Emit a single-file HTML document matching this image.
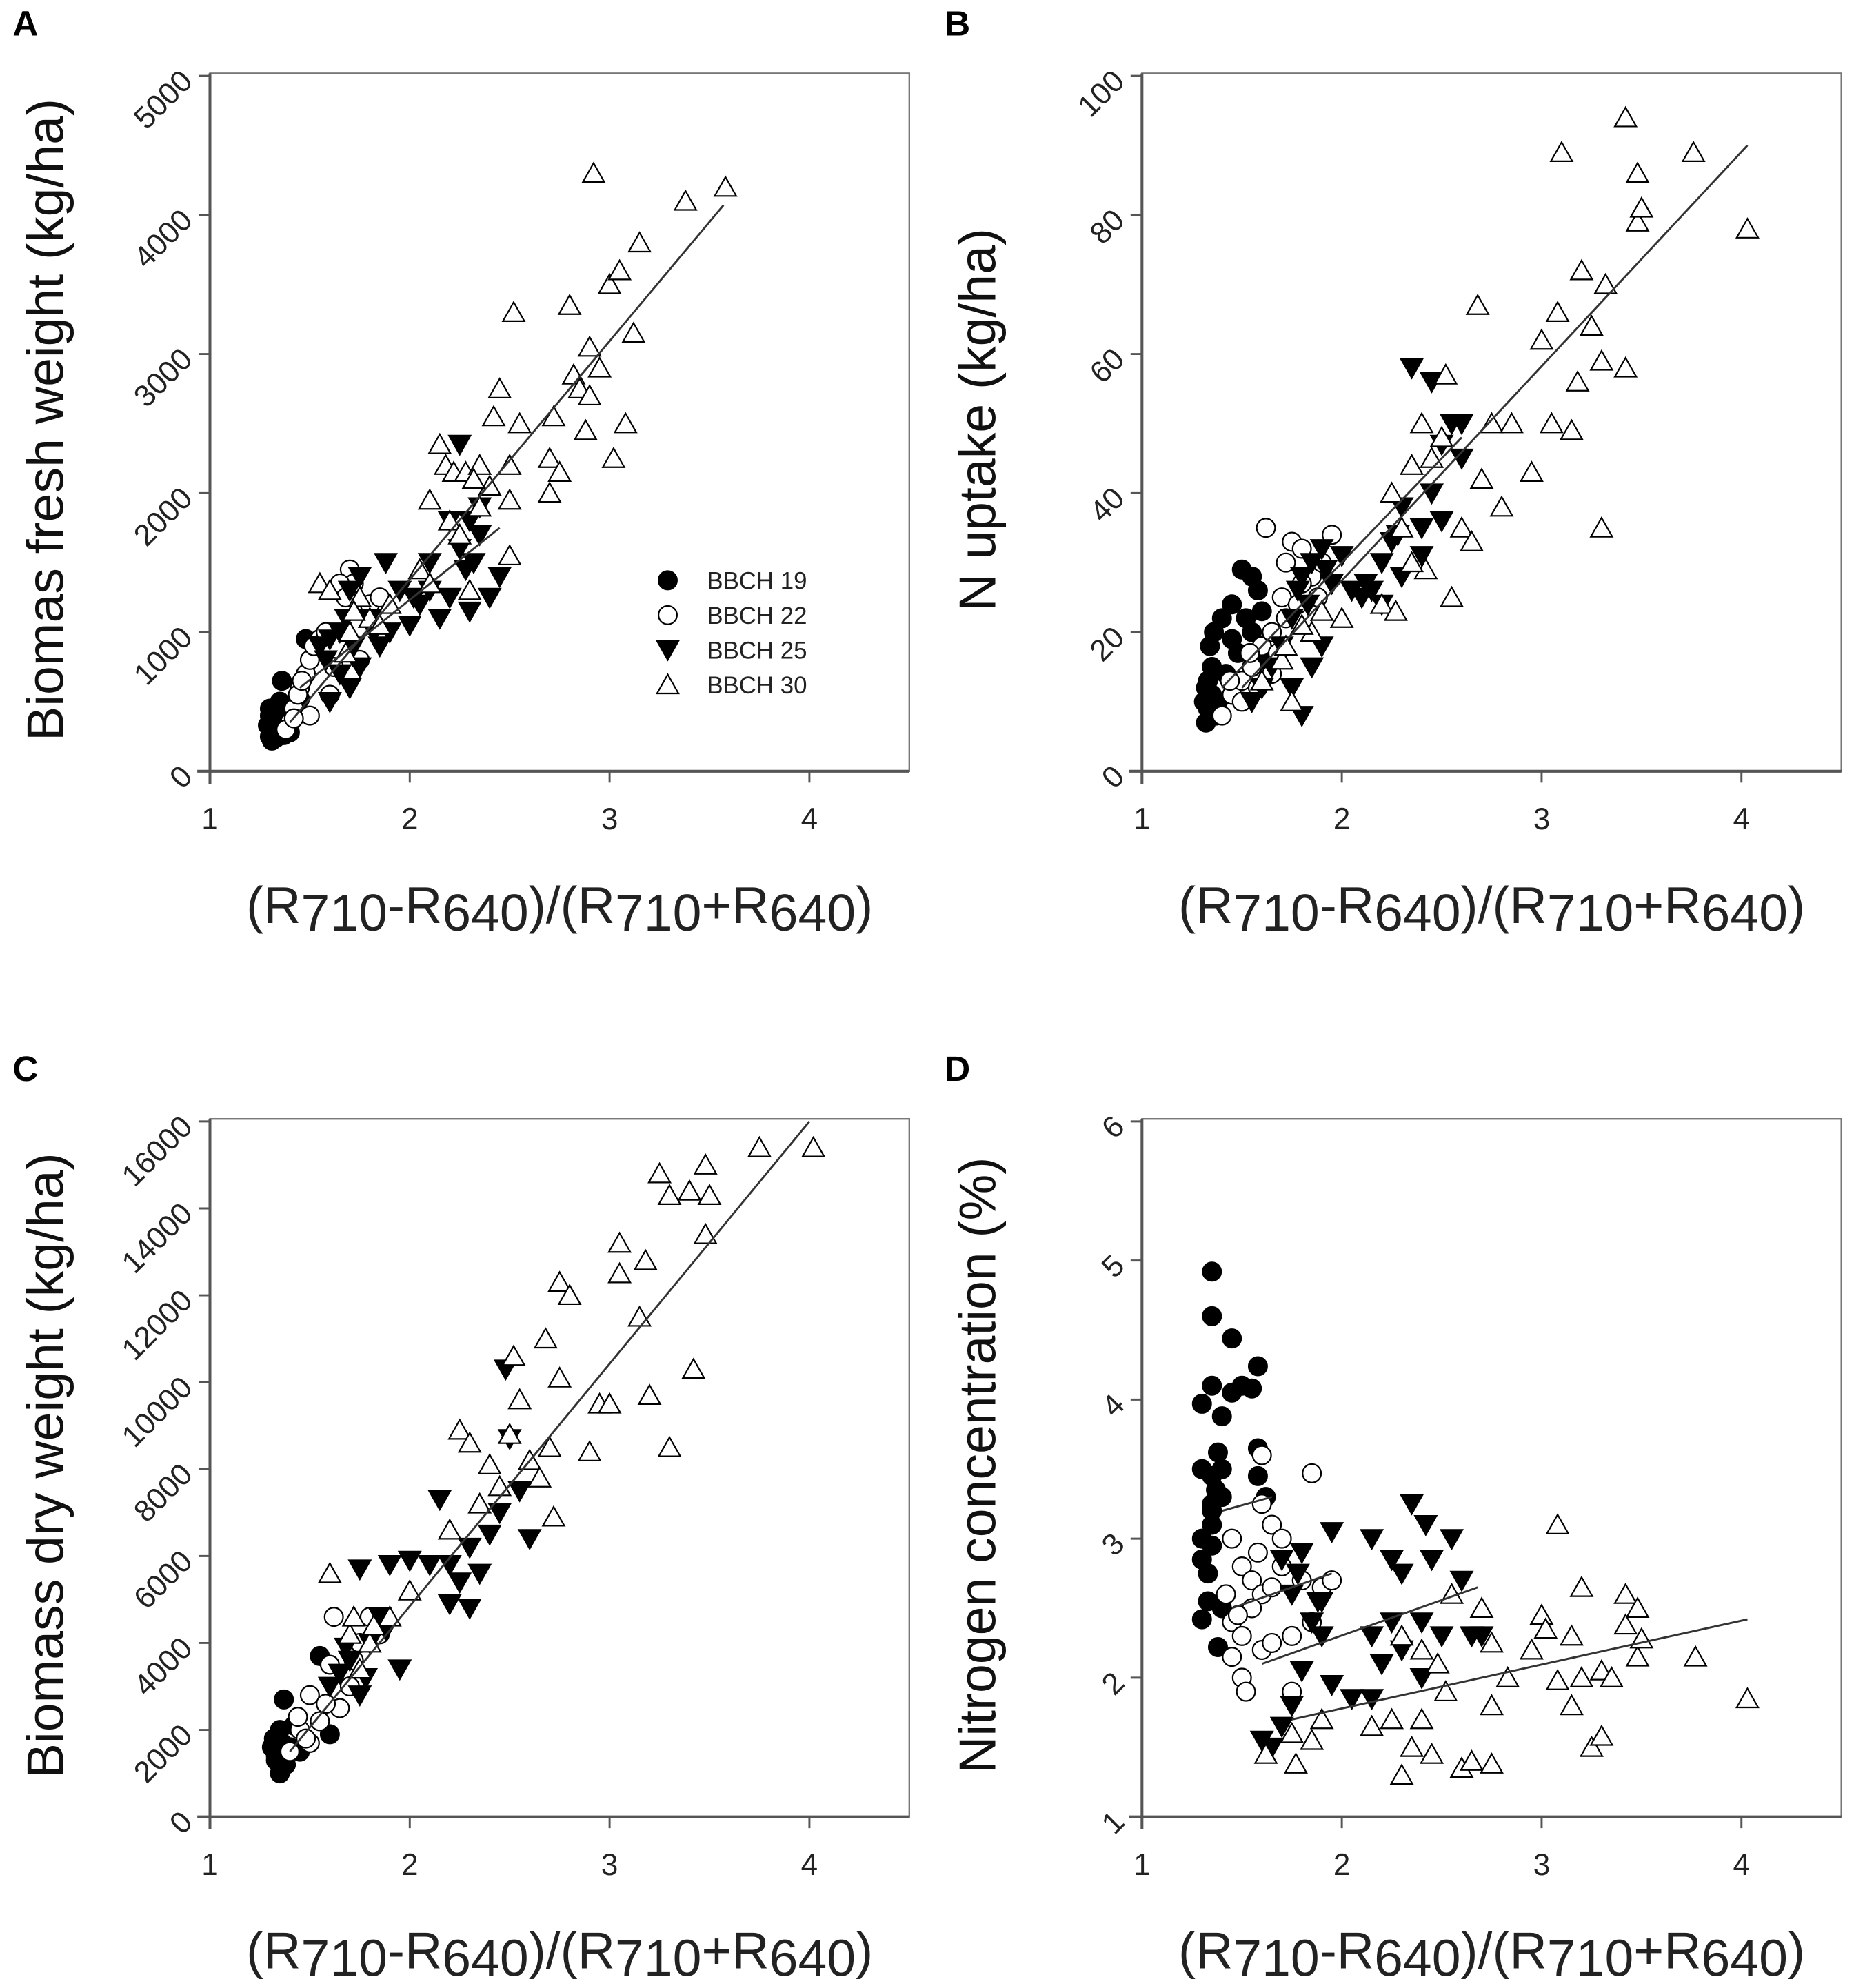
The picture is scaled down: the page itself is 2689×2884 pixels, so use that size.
<!DOCTYPE html>
<html><head><meta charset="utf-8"><title>Spectral index regressions</title>
<style>
html,body{margin:0;padding:0;background:#fff;}
svg{display:block;font-family:"Liberation Sans",Arial,sans-serif;}
</style></head>
<body>
<svg id="fig" width="2689" height="2884" viewBox="0 0 1466 1572.4" preserveAspectRatio="none" xmlns="http://www.w3.org/2000/svg"></svg>
<script>
// ---------- Panel A: Biomass fresh weight ----------
const aX19=[1.30,1.31,1.32,1.30,1.33,1.35,1.36,1.32,1.34,1.38,1.40,1.36,1.48,1.45,1.31,1.33,1.29,1.30,1.33,1.35,1.37];
const aY19=[250,300,350,400,450,500,650,280,320,300,280,380,950,520,220,240,330,450,420,270,260];
const aX22=[1.40,1.42,1.45,1.48,1.50,1.55,1.60,1.70,1.72,1.65,1.80,1.85,1.50,1.44,1.58,1.62,1.75,1.38,1.46,1.52,1.68,1.42];
const aY22=[350,450,600,700,800,950,550,1450,1350,1350,1200,1250,400,550,1000,750,800,300,650,900,1250,380];
const aX25=[1.55,1.60,1.65,1.70,1.75,1.80,1.85,1.88,1.70,1.65,1.95,2.00,2.05,2.10,2.15,2.20,2.25,2.25,2.30,2.30,2.35,2.40,2.45,2.35,2.20,1.60,1.75,1.90,2.28,2.10,1.58,1.68,1.72,1.82,2.02,2.32];
const aY25=[900,950,1000,1300,1400,1100,900,1500,600,700,1300,1050,1200,1500,1100,1250,2350,1600,1800,1150,1700,1250,1400,1900,1800,500,750,1000,1450,1300,800,1100,900,1000,1250,1500];
const aX30=[1.55,1.60,1.70,1.75,1.80,1.90,2.05,2.10,2.15,2.18,2.20,2.22,2.28,2.35,2.40,2.42,2.45,2.50,2.50,2.50,2.55,2.70,2.70,2.72,2.75,2.80,2.82,2.85,2.88,2.90,2.90,2.92,2.95,3.00,3.02,3.05,3.08,3.12,3.15,3.38,3.58,2.52,2.30,2.10,2.35,1.68,1.72,1.85,2.25,2.32];
const aY30=[1350,1300,1000,1250,1100,1200,1450,1950,2350,2200,1800,2150,2150,2200,2050,2550,2750,2200,1950,1550,2500,2000,2250,2550,2150,3350,2850,2750,2450,3050,2700,4300,2900,3500,2250,3600,2500,3150,3800,4100,4200,3300,1300,1350,1900,850,1150,1050,1700,2100];
const aLines=[[1.40,350,3.57,4070],[1.45,600,2.45,1750]];
// ---------- Panel B: N uptake ----------
const bX19=[1.32,1.33,1.32,1.35,1.34,1.36,1.40,1.45,1.50,1.55,1.58,1.38,1.42,1.48,1.55,1.60,1.35,1.45,1.52,1.60,1.33,1.37,1.31];
const bY19=[7,9,12,15,18,20,22,24,29,28,26,10,14,17,20,23,11,19,22,16,13,8,10];
const bX22=[1.40,1.45,1.50,1.55,1.60,1.62,1.65,1.70,1.72,1.75,1.80,1.85,1.90,1.95,1.50,1.58,1.65,1.72,1.80,1.68,1.78,1.88,1.44,1.54];
const bY22=[8,11,13,15,18,35,20,25,30,33,32,28,30,34,10,12,14,22,27,17,24,25,13,17];
const bX25=[1.55,1.60,1.65,1.70,1.75,1.80,1.85,1.90,1.80,1.90,1.95,2.00,2.10,2.15,2.20,2.25,2.30,2.35,2.40,2.45,2.50,2.50,2.55,2.60,2.60,2.30,2.40,2.20,2.05,1.75,1.85,2.45,1.78,1.83,1.92,2.12,2.28];
const bY25=[10,12,15,18,22,28,30,32,8,18,27,31,25,26,30,33,28,58,35,56,47,36,50,50,45,38,31,24,26,12,15,40,26,24,29,27,34];
const bX30=[1.60,1.70,1.75,1.85,1.90,2.00,2.20,2.25,2.30,2.35,2.40,2.42,2.50,2.52,2.55,2.60,2.65,2.68,2.70,2.75,2.80,2.85,2.95,3.00,3.05,3.08,3.10,3.15,3.18,3.20,3.25,3.30,3.30,3.32,3.42,3.42,3.48,3.48,3.50,3.76,4.03,2.45,2.35,1.72,1.80,2.27];
const bY30=[13,16,10,20,23,22,24,40,35,44,50,29,48,57,25,35,33,67,42,50,38,50,43,62,50,66,89,49,56,72,64,35,59,70,94,58,79,86,81,89,78,45,30,18,21,23];
const bLines=[[1.50,12,4.03,90],[1.40,12,2.60,48]];
// ---------- Panel C: Biomass dry weight ----------
const cX19=[1.35,1.33,1.32,1.35,1.37,1.40,1.42,1.38,1.55,1.60,1.45,1.33,1.31,1.36];
const cY19=[1000,1400,1800,2000,2700,1600,2100,1200,3700,1900,1500,1300,1600,1700];
const cX22=[1.40,1.45,1.50,1.55,1.60,1.62,1.65,1.70,1.75,1.80,1.85,1.50,1.58,1.72,1.44,1.48];
const cY22=[1500,2000,2800,2200,3500,4600,2500,3000,4000,4600,4200,1700,2600,3600,2300,1800];
const cX25=[1.60,1.65,1.70,1.75,1.80,1.85,1.90,1.95,2.00,2.10,2.15,2.20,2.25,2.30,2.35,2.40,2.45,2.48,2.50,2.55,2.60,2.30,2.20,1.75,1.88,1.68,1.78];
const cY25=[3000,3300,3600,2800,4000,4600,5800,3400,5900,5800,7300,4900,5400,4800,5600,6500,7000,10300,8700,7500,6400,6200,5800,5700,4300,3900,3200];
const cX30=[1.60,1.70,1.75,1.80,1.90,2.00,2.20,2.25,2.30,2.35,2.40,2.45,2.50,2.52,2.55,2.60,2.65,2.68,2.70,2.72,2.75,2.80,2.90,2.95,3.00,3.05,3.05,3.15,3.18,3.20,3.25,3.30,3.30,3.40,3.42,3.48,3.50,3.75,4.02,3.48,2.75,1.72,1.82];
const cY30=[5600,4200,3400,4000,4600,5200,6600,8900,8600,7200,8100,7600,8800,10600,9600,8200,7800,11000,8500,6900,12300,12000,8400,9500,9500,13200,12500,11500,12800,9700,14800,8500,14300,14400,10300,15000,14300,15400,15400,13400,10100,4600,4400];
const cLines=[[1.40,1500,4.00,16000]];
// ---------- Panel D: Nitrogen concentration ----------
const dX19=[1.35,1.35,1.45,1.58,1.30,1.35,1.45,1.50,1.55,1.40,1.38,1.30,1.35,1.40,1.58,1.58,1.35,1.40,1.62,1.30,1.35,1.30,1.35,1.33,1.30,1.38,1.40,1.35,1.33,1.37];
const dY19=[4.92,4.60,4.44,4.24,3.97,4.10,4.05,4.10,4.08,3.88,3.62,3.50,3.45,3.50,3.65,3.45,3.25,3.30,3.30,3.00,3.10,2.85,2.95,2.55,2.42,2.22,2.50,3.20,2.75,3.35];
const dX22=[1.60,1.85,1.60,1.65,1.70,1.45,1.50,1.55,1.60,1.65,1.70,1.80,1.90,1.45,1.50,1.55,1.60,1.65,1.50,1.52,1.75,1.45,1.75,1.85,1.95,1.42,1.48,1.58];
const dY22=[3.60,3.47,3.25,3.10,3.00,3.00,2.80,2.70,2.60,2.65,2.80,2.70,2.65,2.40,2.30,2.50,2.20,2.25,2.00,1.90,1.90,2.15,2.30,2.40,2.70,2.60,2.45,2.90];
const dX25=[1.60,1.65,1.70,1.75,1.80,1.70,1.80,1.85,1.90,1.95,1.95,2.05,2.15,2.15,2.15,2.20,2.25,2.25,2.30,2.35,2.40,2.40,2.42,2.45,2.50,2.55,2.60,2.65,2.70,1.75,1.90,2.30,1.78,1.88];
const dY25=[1.55,1.50,1.65,1.80,2.05,2.85,2.90,2.40,2.55,3.05,1.95,1.85,1.85,3.00,2.30,2.10,2.40,2.85,2.75,3.25,2.40,2.00,3.10,2.85,2.30,3.00,2.70,2.30,2.30,2.60,2.30,2.20,2.75,2.55];
const dX30=[1.62,1.75,1.77,1.85,1.90,2.15,2.25,2.30,2.35,2.40,2.40,2.45,2.48,2.52,2.55,2.60,2.65,2.70,2.75,2.75,2.83,2.95,3.00,3.02,3.08,3.08,3.15,3.15,3.20,3.20,3.25,3.30,3.30,3.35,3.42,3.42,3.48,3.48,3.50,3.77,4.03,2.30,2.75];
const dY30=[1.45,1.60,1.38,1.55,1.70,1.65,1.70,2.30,1.50,1.70,2.20,1.45,2.10,1.90,2.60,1.35,1.40,2.50,1.80,2.25,2.00,2.20,2.45,2.35,3.10,1.98,2.30,1.80,2.65,2.00,1.50,2.05,1.58,2.00,2.60,2.38,2.50,2.15,2.28,2.15,1.85,1.30,1.38];
const dLines=[[1.75,1.70,4.03,2.42],[1.60,2.10,2.68,2.65],[1.45,2.50,1.95,2.75],[1.40,3.20,1.65,3.30]];
const aYTicks=["0","1000","2000","3000","4000","5000"];
const bYTicks=["0","20","40","60","80","100"];
const cYTicks=["0","2000","4000","6000","8000","10000","12000","14000","16000"];
const dYTicks=["1","2","3","4","5","6"];
const xTicks=["1","2","3","4"];
const legendLabels=["BBCH 19","BBCH 22","BBCH 25","BBCH 30"];

const NS="http://www.w3.org/2000/svg";
const svg=document.getElementById('fig');
function mk(tag,attrs,parent){const e=document.createElementNS(NS,tag);for(const k in attrs)e.setAttribute(k,attrs[k]);(parent||svg).appendChild(e);return e;}

function marker(g,type,cx,cy){
  let e;
  if(type===0){e=mk('circle',{cx:cx,cy:cy,r:7.3,fill:'#000',stroke:'#000','stroke-width':1.2},g);}
  else if(type===1){e=mk('circle',{cx:cx,cy:cy,r:7.3,fill:'#fff',stroke:'#000','stroke-width':1.2},g);}
  else if(type===2){e=mk('polygon',{points:(cx-8.5)+','+(cy-7)+' '+(cx+8.5)+','+(cy-7)+' '+cx+','+(cy+8)},g);e.setAttribute('fill','#000');e.setAttribute('stroke','#000');e.setAttribute('stroke-width','1.2');}
  else {e=mk('polygon',{points:(cx-8.5)+','+(cy+7)+' '+(cx+8.5)+','+(cy+7)+' '+cx+','+(cy-8)},g);e.setAttribute('fill','#fff');e.setAttribute('stroke','#000');e.setAttribute('stroke-width','1.2');}
  return e;
}

function xTitle(g,cx,y){
  const t=mk('text',{x:cx,y:y,'text-anchor':'middle','font-size':41,fill:'#222'},g);
  
  
  const parts=[["(R",0],["710",6],["-R",-6],["640",6],[")/(R",-6],["710",6],["+R",-6],["640",6],[")",-6]];
  parts.forEach(p=>{const s=mk('tspan',{dy:p[1]},t);s.textContent=p[0];});
}

function panel(opt){
  const g=mk('g',{});
  
  
  const L=opt.left,R=opt.left+553,T=opt.top,B=opt.top+552;
  const xs=v=>L+(v-1)*158;
  const ys=v=>B-(v-opt.ymin)/(opt.ymax-opt.ymin)*(B-T-2);
  const lt=mk('text',{x:opt.left-156,y:opt.top-30,'font-size':28,'font-weight':'bold',fill:'#000'},g);
  
  
  lt.textContent=opt.letter;
  const fr=mk('rect',{x:L,y:T,width:R-L,height:B-T,fill:'none',stroke:'#777','stroke-width':1.3},g);
  
  
  const ax=mk('line',{x1:L-10,y1:B,x2:R,y2:B,stroke:'#555','stroke-width':2.2},g);
  
  
  const ay=mk('line',{x1:L,y1:T,x2:L,y2:B+10,stroke:'#555','stroke-width':2.2},g);
  
  
  xTicks.forEach(s=>{const v=parseFloat(s);const x=xs(v);
    const tk=mk('line',{x1:x,y1:B,x2:x,y2:B+9,stroke:'#555','stroke-width':1.6},g);
    
    
    const tl=mk('text',{x:x,y:B+46,'text-anchor':'middle','font-size':24,fill:'#222'},g);
    
    
    tl.textContent=s;});
  opt.yticks.forEach(s=>{const v=parseFloat(s);const y=ys(v);
    const tk=mk('line',{x1:L-9,y1:y,x2:L,y2:y,stroke:'#555','stroke-width':1.6},g);
    
    
    const tl=mk('text',{x:L-16,y:y+7,'text-anchor':'end','font-size':24,fill:'#222',transform:'rotate(-45 '+(L-16)+' '+(y+2)+')'},g);
    
    
    tl.textContent=s;});
  const yt=mk('text',{x:0,y:0,'text-anchor':'middle','font-size':41,fill:'#111',transform:'translate('+(L-116)+','+((T+B)/2-2)+') rotate(-90)'},g);
  
  
  yt.textContent=opt.ytitle;
  xTitle(g,(L+R)/2,B+120);
  const sg=mk('g',{},g);
  
  
  opt.series.forEach((s,i)=>{
    for(let k=0;k<s[0].length;k++){
      const m=marker(sg,i,xs(s[0][k]),ys(s[1][k]));
      
      
    }
  });
  opt.lines.forEach(l=>{
    const ln=mk('line',{x1:xs(l[0]),y1:ys(l[1]),x2:xs(l[2]),y2:ys(l[3]),stroke:'#333','stroke-width':1.6},g);
    
    
  });
  if(opt.legend){
    const lg=mk('g',{},g);
    
    
    legendLabels.forEach((lab,i)=>{
      const y=T+401+i*27.5;
      const m=marker(lg,i,L+362,y);
      
      
      const t=mk('text',{x:L+393,y:y+7,'font-size':19,fill:'#222'},lg);
      
      
      t.textContent=lab;
    });
  }
}

panel({letter:'A',left:166,top:58,ymin:0,ymax:5000,yticks:aYTicks,ytitle:'Biomas fresh weight (kg/ha)',series:[[aX19,aY19],[aX22,aY22],[aX25,aY25],[aX30,aY30]],lines:aLines,legend:true});
panel({letter:'B',left:903,top:58,ymin:0,ymax:100,yticks:bYTicks,ytitle:'N uptake (kg/ha)',series:[[bX19,bY19],[bX22,bY22],[bX25,bY25],[bX30,bY30]],lines:bLines});
panel({letter:'C',left:166,top:885,ymin:0,ymax:16000,yticks:cYTicks,ytitle:'Biomass dry weight (kg/ha)',series:[[cX19,cY19],[cX22,cY22],[cX25,cY25],[cX30,cY30]],lines:cLines});
panel({letter:'D',left:903,top:885,ymin:1,ymax:6,yticks:dYTicks,ytitle:'Nitrogen concentration (%)',series:[[dX19,dY19],[dX22,dY22],[dX25,dY25],[dX30,dY30]],lines:dLines});
</script>
</body></html>
